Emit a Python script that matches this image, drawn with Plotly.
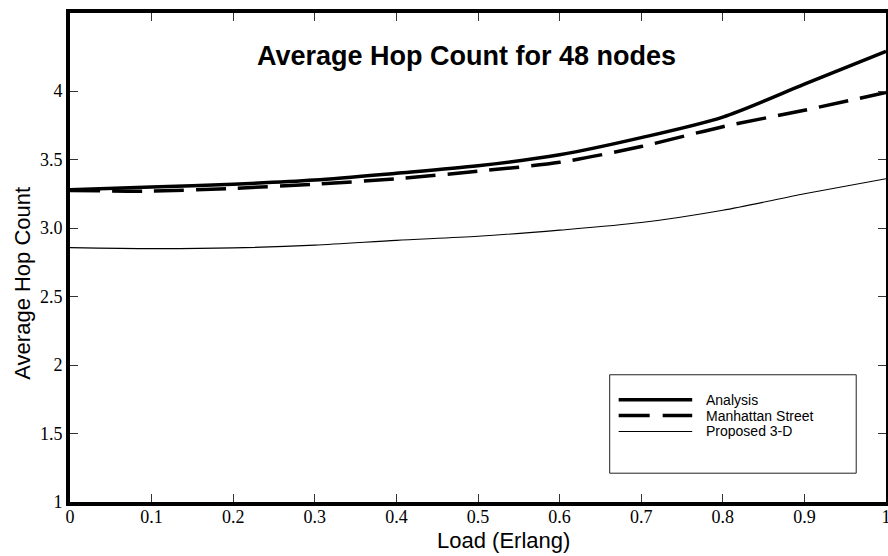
import plotly.graph_objects as go

# Offered load (Erlang)
load = [0.0, 0.1, 0.2, 0.3, 0.4, 0.5, 0.6, 0.7, 0.8, 0.9, 1.0]

# Average hop count per scheme
analysis = [3.28, 3.30, 3.32, 3.35, 3.40, 3.455, 3.535, 3.66, 3.81, 4.05, 4.29]
manhattan = [3.275, 3.27, 3.29, 3.32, 3.36, 3.415, 3.48, 3.595, 3.74, 3.86, 3.99]
proposed = [2.857, 2.85, 2.855, 2.875, 2.91, 2.94, 2.985, 3.04, 3.13, 3.25, 3.36]

series_names = ["Analysis", "Manhattan Street", "Proposed 3-D"]

y_tickvals = [1, 1.5, 2, 2.5, 3, 3.5, 4]
y_ticktext = ["1", "1.5", "2", "2.5", "3.0", "3.5", "4"]
x_tickvals = [0, 0.1, 0.2, 0.3, 0.4, 0.5, 0.6, 0.7, 0.8, 0.9, 1.0]
x_ticktext = ["0", "0.1", "0.2", "0.3", "0.4", "0.5", "0.6", "0.7", "0.8", "0.9", "1"]

SANS = "Liberation Sans, Arial, sans-serif"
SERIF = "Liberation Serif, Times New Roman, serif"

styles = [
    dict(color="black", width=3.5, dash="solid"),
    dict(color="black", width=3.5, dash="30px,12px"),
    dict(color="black", width=1.1, dash="solid"),
]

fig = go.Figure()
for name, ys, st in zip(series_names, [analysis, manhattan, proposed], styles):
    fig.add_trace(go.Scatter(
        x=load, y=ys, name=name, mode="lines",
        line=dict(color=st["color"], width=st["width"], dash=st["dash"],
                  shape="spline", smoothing=0.8),
        showlegend=False,
    ))

axis_common = dict(
    showline=True, linecolor="black", linewidth=4, mirror="ticks",
    ticks="inside", ticklen=8, tickwidth=1, tickcolor="#333",
    showgrid=False, zeroline=False,
    tickfont=dict(family=SERIF, size=18, color="black"),
)

fig.update_layout(
    width=900, height=556,
    margin=dict(l=70, r=9, t=10, b=54),
    paper_bgcolor="white", plot_bgcolor="white",
    xaxis=dict(range=[0, 1], tickvals=x_tickvals, ticktext=x_ticktext,
               ticklabelstandoff=-5, **axis_common),
    yaxis=dict(range=[1, 4.57], tickvals=y_tickvals, ticktext=y_ticktext, **axis_common),
)

# Title and axis titles
fig.add_annotation(text="<b>Average Hop Count for 48 nodes</b>", xref="paper", yref="paper",
                   x=0.486, y=0.9126, xanchor="center", yanchor="middle", showarrow=False,
                   font=dict(family=SANS, size=27, color="black"))
fig.add_annotation(text="Load (Erlang)", xref="paper", yref="paper",
                   x=0.5317, y=-0.078, xanchor="center", yanchor="middle", showarrow=False,
                   font=dict(family=SANS, size=22, color="black"))
fig.add_annotation(text="Average Hop Count", xref="paper", yref="paper",
                   x=-0.0585, y=0.447, xanchor="center", yanchor="middle", showarrow=False,
                   textangle=-90, font=dict(family=SANS, size=22, color="black"))

# Legend box with line samples
fig.add_shape(type="rect", xref="paper", yref="paper", x0=0.6614, x1=0.9635, y0=0.0589, y1=0.2602,
              line=dict(color="#222", width=1), fillcolor="white", layer="above")
legend_rows = [0.2093, 0.1768, 0.1443]
legend_dash = ["solid", "31px,13px", "solid"]
for name, st, ly, dsh in zip(series_names, styles, legend_rows, legend_dash):
    fig.add_shape(type="line", xref="paper", yref="paper", x0=0.6724, x1=0.7625, y0=ly, y1=ly,
                  line=dict(color="black", width=st["width"], dash=dsh), layer="above")
    fig.add_annotation(text=name, xref="paper", yref="paper", x=0.7783, y=ly,
                       xanchor="left", yanchor="middle", showarrow=False, borderpad=0,
                       font=dict(family=SANS, size=14, color="black"))

fig.write_html("out.html",
               post_script="document.documentElement.style.overflow='hidden';"
                           "document.body.style.overflow='hidden';")
